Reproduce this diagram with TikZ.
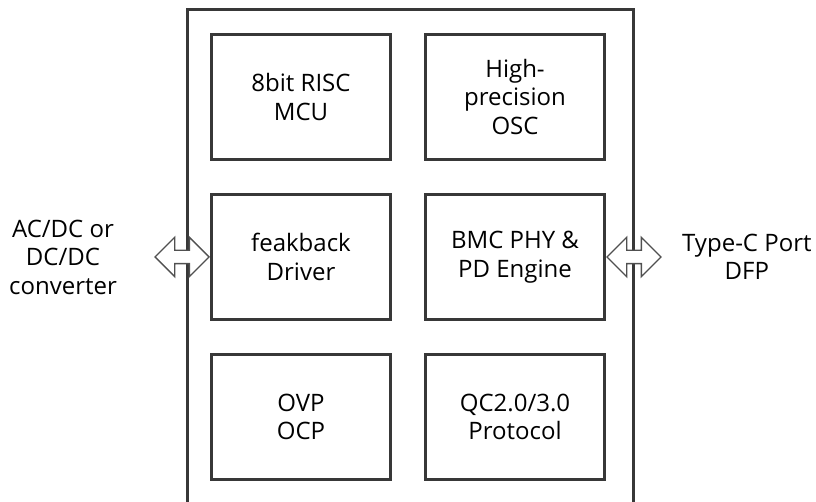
\documentclass[tikz,border=0pt]{standalone}
\usepackage{fontspec}
\setmainfont{Open Sans}
\usepackage{xcolor}
\usepackage{tikz}
\usetikzlibrary{shapes,arrows,positioning}

\definecolor{edge}{HTML}{383838}
\definecolor{arrline}{HTML}{505050}

\begin{document}
\begin{tikzpicture}[
    x=1pt, y=-1pt,
    font=\fontsize{24}{28.5}\selectfont,
    block/.style={draw=edge, line width=3pt, minimum width=179pt, minimum height=125pt, align=center},
    dblarrow/.style={double arrow, draw=arrline, fill=white, line width=1.4pt, inner sep=6pt, double arrow head extend=13pt, minimum height=54pt},
    lbl/.style={align=center, inner sep=0pt}
]
    \useasboundingbox (0,0) rectangle (816,502);

    % chip outline
    \coordinate (bl) at (187,502);
    \coordinate (tl) at (187,10);
    \coordinate (tr) at (633,10);
    \coordinate (br) at (633,502);
    \draw[edge, line width=3pt] (bl) -- (tl) -- (tr) -- (br);

    % blocks
    \node[block] (mcu) at (301,97) {8bit RISC\\MCU};
    \node[block, right=32pt of mcu] (osc) {High-\\precision\\OSC};
    \node[block, below=32pt of mcu] (drv) {feakback\\Driver};
    \node[block, below=32pt of osc] (pd) {BMC PHY \&\\PD Engine};
    \node[block, below=32pt of drv] (ovp) {OVP\\OCP};
    \node[block, below=32pt of pd] (qc) {QC2.0/3.0\\Protocol};

    % interfaces
    \node[dblarrow, left=0pt of drv] (inarr) {};
    \node[dblarrow, right=0pt of pd] (outarr) {};
    \node[lbl, left=37pt of inarr] (src) {AC/DC or\\DC/DC\\converter};
    \node[lbl, right=20pt of outarr] (port) {Type-C Port\\DFP};
\end{tikzpicture}
\end{document}
